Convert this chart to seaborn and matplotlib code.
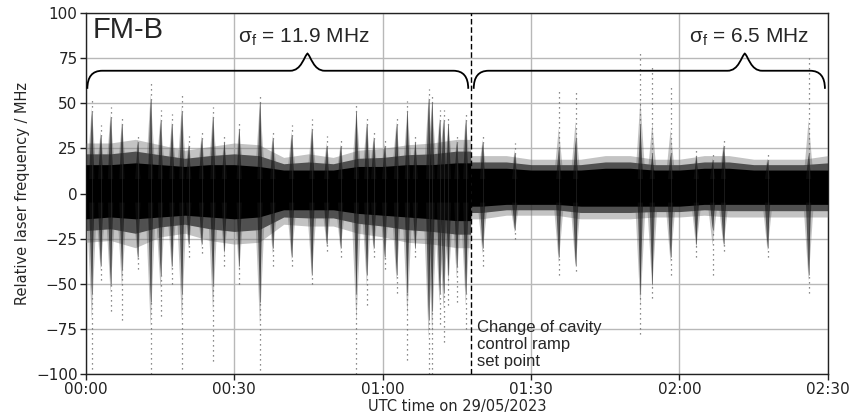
import numpy as np
import pandas as pd
import matplotlib
matplotlib.use("Agg")
import matplotlib.pyplot as plt
from matplotlib.path import Path
from matplotlib.patches import PathPatch
import seaborn as sns

# ---------------- data ----------------
# dense band envelopes, segment 1 (before set-point change), minutes after 00:00
t_seg1 = [0, 5, 10, 15, 20, 25, 30, 35, 40, 45, 50, 55, 60, 65, 70, 75, 77.8]
core_up1 = [16, 16, 17, 16, 15, 16, 16, 15, 13, 13, 13, 15, 15, 16, 16, 17, 17]
core_lo1 = [-14, -13, -14, -13, -12, -13, -14, -13, -9, -9, -9, -11, -12, -13, -14, -15, -15]
fuzz_up1 = [28, 28, 30, 27, 24, 26, 28, 27, 20, 22, 20, 24, 25, 27, 28, 30, 30]
fuzz_lo1 = [-27, -26, -30, -24, -22, -26, -28, -27, -17, -18, -18, -22, -24, -27, -28, -30, -30]

# segment 2 (after set-point change)
t_seg2 = [77.8, 80, 85, 90, 95, 100, 105, 110, 115, 120, 125, 130, 135, 140, 145, 150]
core_up2 = [14, 14, 14, 13, 13, 13, 14, 14, 13, 13, 14, 14, 13, 13, 13, 13]
core_lo2 = [-7, -7, -6, -6, -6, -7, -7, -7, -7, -7, -6, -6, -6, -6, -6, -6]
fuzz_up2 = [21, 21, 21, 19, 19, 19, 21, 21, 19, 19, 21, 21, 19, 19, 19, 21]
fuzz_lo2 = [-14, -14, -12, -12, -12, -14, -14, -14, -13, -13, -12, -13, -13, -13, -13, -13]

# excursions (spikes): time, dense top, sparse top, dense bottom, sparse bottom
spike_t = [1.2, 3.0, 5.0, 7.3, 10.5, 13.1, 15.1, 17.4, 19.4, 20.8, 23.4, 25.7, 28.0,
           31.0, 35.2, 37.8, 41.6, 45.7, 48.7, 51.5, 54.7, 56.8, 58.2, 60.4, 62.8,
           65.0, 66.6, 69.3, 70.0, 71.5, 72.3, 73.3, 75.0, 76.8, 80.2, 86.7, 95.6,
           99.0, 112.1, 114.5, 118.2, 123.4, 126.7, 128.9, 137.8, 146.1]
spike_top = [45, 32, 42, 38, 28, 52, 40, 38, 45, 26, 30, 42, 28, 35, 50, 30, 32, 35,
             26, 26, 45, 38, 30, 26, 38, 45, 28, 52, 50, 40, 40, 38, 28, 40, 28, 22,
             25, 30, 38, 22, 22, 20, 18, 26, 18, 22]
spike_tail_top = [52, 38, 48, 43, 33, 61, 46, 44, 55, 32, 36, 48, 32, 40, 55, 36, 38,
                  41, 32, 30, 50, 43, 35, 31, 43, 51, 32, 58, 55, 46, 46, 43, 32, 45,
                  33, 28, 57, 58, 78, 70, 60, 25, 22, 30, 22, 75]
spike_bot = [-55, -40, -50, -42, -35, -60, -45, -40, -55, -28, -28, -50, -32, -40,
             -60, -30, -35, -45, -28, -30, -55, -45, -30, -35, -45, -55, -30, -70,
             -65, -55, -55, -45, -40, -55, -30, -20, -35, -40, -55, -50, -35, -28,
             -20, -28, -30, -45]
spike_tail_bot = [-97, -48, -65, -70, -42, -100, -68, -50, -97, -35, -33, -93, -40,
                  -50, -98, -40, -40, -50, -32, -35, -100, -62, -35, -42, -55, -92,
                  -35, -100, -100, -72, -82, -62, -60, -75, -40, -25, -45, -43, -78,
                  -58, -45, -35, -45, -32, -35, -55]

change_t = 77.8
x_ticks = [0, 30, 60, 90, 120, 150]
x_labels = ["00:00", "00:30", "01:00", "01:30", "02:00", "02:30"]
y_ticks = [-100, -75, -50, -25, 0, 25, 50, 75, 100]
sigma_labels = ["11.9 MHz", "6.5 MHz"]

# ---------------- style ----------------
sns.set_theme(style="ticks", rc={
    "axes.grid": True,
    "grid.color": "#b8b8b8",
    "grid.linewidth": 1.0,
    "axes.edgecolor": "#222222",
    "axes.linewidth": 1.0,
    "xtick.color": "#222222",
    "ytick.color": "#222222",
})
plt.rcParams["font.family"] = ["DejaVu Sans"]
plt.rcParams["mathtext.fontset"] = "custom"
plt.rcParams["mathtext.rm"] = "Liberation Sans"
plt.rcParams["mathtext.it"] = "Liberation Sans:italic"

fig = plt.figure(figsize=(8.5, 4.18), dpi=100)
ax = fig.add_axes([0.101, 0.105, 0.873, 0.864])
ax.set_axisbelow(True)

spikes = pd.DataFrame({"t": spike_t, "top": spike_top, "tail_top": spike_tail_top,
                       "bot": spike_bot, "tail_bot": spike_tail_bot})

# sparse tails of excursions (dotted, like scattered points)
ax.vlines(spikes["t"], spikes["top"], spikes["tail_top"], color="#666666",
          linewidth=0.9, linestyles=(0, (1, 3)), zorder=2)
ax.vlines(spikes["t"], spikes["tail_bot"], spikes["bot"], color="#666666",
          linewidth=0.9, linestyles=(0, (1, 3)), zorder=2)

# fuzzy outer band
for t, up, lo in [(t_seg1, fuzz_up1, fuzz_lo1), (t_seg2, fuzz_up2, fuzz_lo2)]:
    ax.fill_between(t, lo, up, color="#7a7a7a", alpha=0.45, linewidth=0, zorder=3)
# intermediate band
for t, up, lo, cu, cl in [(t_seg1, fuzz_up1, fuzz_lo1, core_up1, core_lo1),
                          (t_seg2, fuzz_up2, fuzz_lo2, core_up2, core_lo2)]:
    mu = (np.array(up) + np.array(cu)) / 2
    ml = (np.array(lo) + np.array(cl)) / 2
    ax.fill_between(t, ml, mu, color="#2a2a2a", alpha=0.75, linewidth=0, zorder=3)
# dense core
for t, up, lo in [(t_seg1, core_up1, core_lo1), (t_seg2, core_up2, core_lo2)]:
    ax.fill_between(t, lo, up, color="black", linewidth=0, zorder=4)

# excursions as cones: wide faint outer cone + narrow dark inner cone
for _, r in spikes.iterrows():
    up_lim = r.top + 0.35 * (r.tail_top - r.top)
    lo_lim = r.bot + 0.35 * (r.tail_bot - r.bot)
    ax.fill([r.t - 1.1, r.t, r.t + 1.1], [5, up_lim, 5], color="#555555",
            alpha=0.35, linewidth=0, zorder=3.5)
    ax.fill([r.t - 1.1, r.t, r.t + 1.1], [-3, lo_lim, -3], color="#555555",
            alpha=0.35, linewidth=0, zorder=3.5)
    ax.fill([r.t - 0.55, r.t, r.t + 0.55], [8, r.top, 8], color="#111111",
            alpha=0.6, linewidth=0, zorder=4)
    ax.fill([r.t - 0.55, r.t, r.t + 0.55], [-5, r.bot, -5], color="#111111",
            alpha=0.6, linewidth=0, zorder=4)
ax.vlines(spikes["t"], spikes["bot"], spikes["top"], color="#333333",
          linewidth=0.6, alpha=0.6, zorder=4)

# set-point change marker
ax.axvline(change_t, color="black", linestyle=(0, (4, 2)), linewidth=1.0, zorder=5)


# curly braces
def brace(x0, x1, xt, yb=68.0, ye=58.0, ytip=77.5, r=3.0, rt=3.5):
    verts = [(x0, ye), (x0, yb), (x0 + r, yb),
             (xt - rt, yb),
             (xt - 1.2, yb), (xt - 0.7, ytip - 1.5), (xt, ytip),
             (xt + 0.7, ytip - 1.5), (xt + 1.2, yb), (xt + rt, yb),
             (x1 - r, yb),
             (x1, yb), (x1, ye)]
    codes = [Path.MOVETO, Path.CURVE3, Path.CURVE3,
             Path.LINETO,
             Path.CURVE4, Path.CURVE4, Path.CURVE4,
             Path.CURVE4, Path.CURVE4, Path.CURVE4,
             Path.LINETO,
             Path.CURVE3, Path.CURVE3]
    ax.add_patch(PathPatch(Path(verts, codes), facecolor="none",
                           edgecolor="black", linewidth=1.3, zorder=6))


brace(0.3, 77.3, 44.8)
brace(78.4, 149.4, 133.2)

ann_font = "Liberation Sans"
ax.text(44.0, 86.5, r"$\mathregular{\sigma_f}$ = " + sigma_labels[0], ha="center",
        va="center", fontsize=15, family=ann_font, zorder=7)
ax.text(134.0, 86.5, r"$\mathregular{\sigma_f}$ = " + sigma_labels[1], ha="center",
        va="center", fontsize=15, family=ann_font, zorder=7)
ax.text(1.3, 90.5, "FM-B", ha="left", va="center", fontsize=21, family=ann_font,
        zorder=7)
ax.text(79.0, -83.5, "Change of cavity\ncontrol ramp\nset point", ha="left",
        va="center", fontsize=12, family=ann_font, linespacing=1.15, zorder=7)

ax.set_xlim(0, 150)
ax.set_ylim(-100, 100)
ax.set_xticks(x_ticks)
ax.set_xticklabels(x_labels)
ax.set_yticks(y_ticks)
ax.tick_params(labelsize=11, length=4, width=1, pad=2)
ax.set_xlabel("UTC time on 29/05/2023", fontsize=10.5, labelpad=1)
ax.set_ylabel("Relative laser frequency / MHz", fontsize=10.5, labelpad=4)

fig.savefig("out.png", dpi=100)
